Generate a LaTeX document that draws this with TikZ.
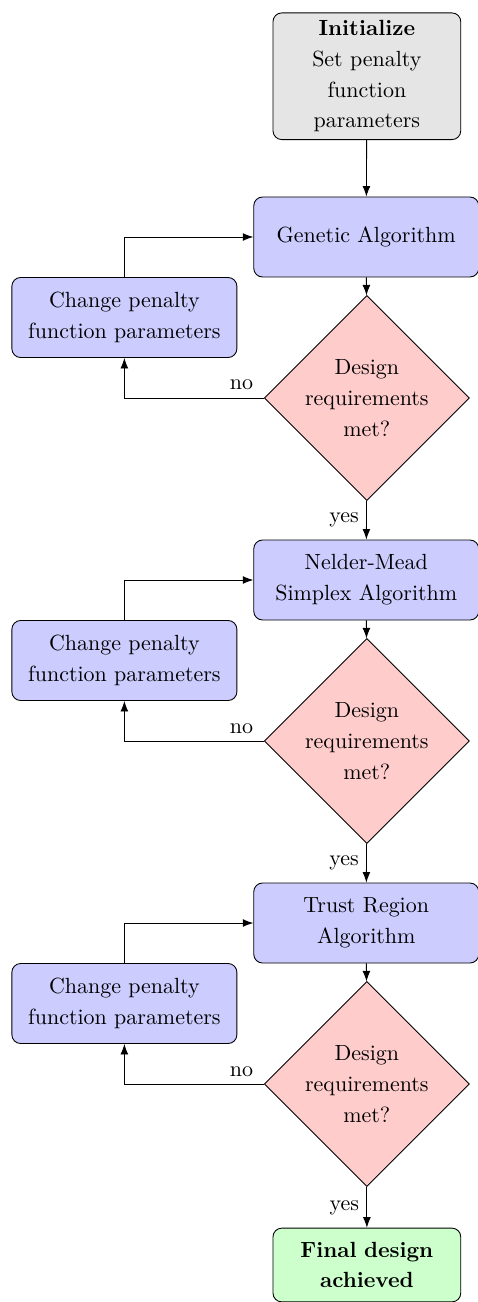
\documentclass[tikz,border=0pt]{standalone}
\usepackage{tikz}
\usetikzlibrary{arrows.meta,positioning,shapes.geometric}
\newcommand{\nohyph}{\hyphenpenalty=10000\relax}

\begin{document}
\begin{tikzpicture}[
    every node/.style={font=\linespread{1.17}\selectfont},
    roundbox/.style={draw, rounded corners, align=center, execute at begin node=\nohyph},
    startbox/.style={roundbox, fill=gray!20, text width=2.77cm},
    finalbox/.style={roundbox, fill=green!20, text width=2.77cm, minimum height=1.18cm, font=\linespread{1.17}\selectfont\bfseries},
    block/.style={roundbox, fill=blue!20, text width=3.2cm, minimum width=3.6cm, minimum height=1.28cm},
    decision/.style={draw, diamond, aspect=1, fill=red!20, align=center, text width=2.05cm, inner sep=0pt},
    arrow/.style={-{Latex}}
  ]
  \useasboundingbox (0,0) rectangle (7.648,-20.832);

  % start
  \node[startbox] (init) at (5.87,-1.22) {\textbf{Initialize}\\ Set penalty function parameters};

  % three optimisation stages
  \foreach \i/\alg in {1/{Genetic Algorithm}, 2/{Nelder-Mead Simplex Algorithm}, 3/{Trust Region Algorithm}} {
    \pgfmathsetmacro{\ya}{-3.792-5.488*(\i-1)}
    \pgfmathsetmacro{\yp}{-5.08-5.488*(\i-1)}
    \pgfmathsetmacro{\yd}{-6.368-5.488*(\i-1)}
    \node[block] (alg\i) at (5.86,\ya) {\alg};
    \node[decision] (dec\i) at (5.87,\yd) {Design requirements met?};
    \node[block] (pen\i) at (1.99,\yp) {Change penalty function parameters};
    \draw[arrow] (alg\i) -- (dec\i);
    \draw[arrow] (dec\i.west) -| node[pos=0.08,above]{no} (pen\i.south);
    \draw[arrow] (pen\i.north) |- (alg\i.west);
  }

  % end
  \node[finalbox] (final) at (5.87,-20.24) {Final design achieved};

  \draw[arrow] (init) -- (alg1);
  \foreach \i/\j in {1/2, 2/3}
    \draw[arrow] (dec\i) -- node[left]{yes} (alg\j);
  \draw[arrow] (dec3) -- node[left]{yes} (final);
\end{tikzpicture}
\end{document}
